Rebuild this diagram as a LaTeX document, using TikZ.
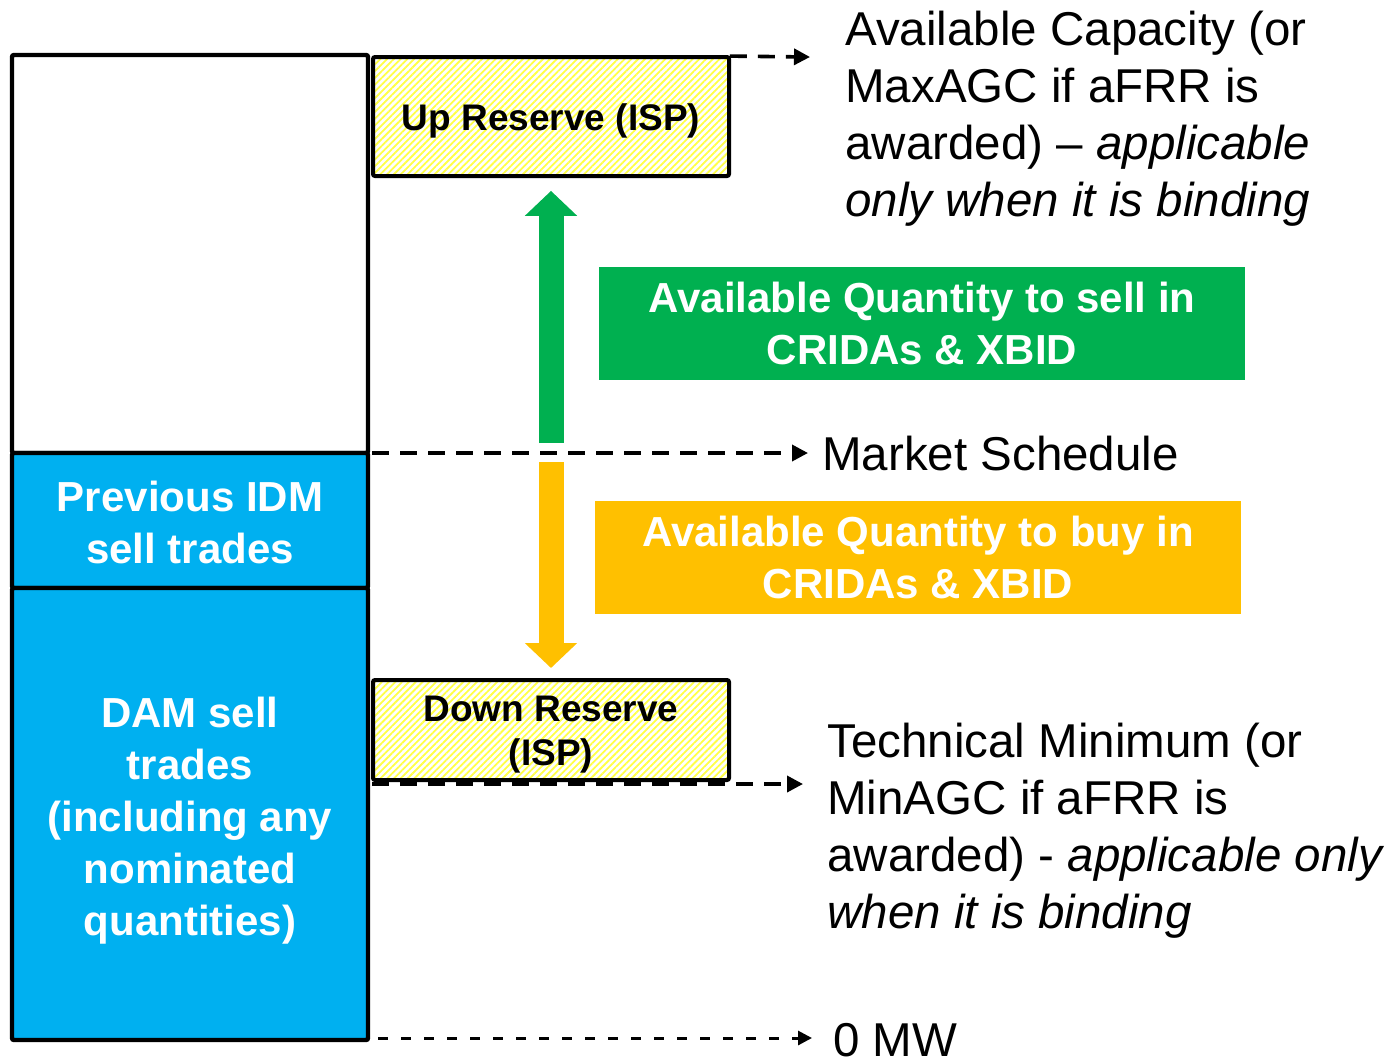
\documentclass[tikz,border=0pt]{standalone}
\usepackage{fontspec}
\setmainfont{Liberation Sans}
\usetikzlibrary{positioning, calc, arrows.meta, patterns.meta}
\definecolor{dayblue}{RGB}{0,176,240}
\definecolor{sellgreen}{RGB}{0,176,80}
\definecolor{buyorange}{RGB}{255,192,0}
\definecolor{hatchyellow}{RGB}{255,255,70}

\tikzset{
  colbox/.style={draw=black, line width=2.2pt, rounded corners=1pt, inner sep=0pt,
    minimum width=178pt},
  coltext/.style={inner sep=0pt, text=white, align=center,
    font=\bfseries\fontsize{21}{26}\selectfont},
  reservebox/.style={draw=black, line width=2pt, rounded corners=1pt, inner sep=0pt,
    minimum width=178pt,
    pattern={Lines[angle=45, distance=2.4pt, line width=0.9pt]}, pattern color=hatchyellow},
  reservetext/.style={inner sep=0pt, align=center,
    font=\bfseries\fontsize{18.5}{22}\selectfont},
  qtybox/.style={inner sep=0pt, minimum width=323pt, minimum height=56.5pt,
    text=white, align=center, font=\bfseries\fontsize{21}{26}\selectfont},
  caption/.style={anchor=west, align=left, inner sep=0pt,
    font=\fontsize{23.75}{28.5}\selectfont},
  levelarrow/.style={line width=1.8pt, dash pattern=on 8.5pt off 5.5pt,
    -{Triangle[length=8pt, width=8pt]}},
  blockarrow/.style={line width=12.5pt, -{Triangle[length=12.5pt, width=25.5pt]}}
}

\begin{document}
\begin{tikzpicture}[x=0.5pt, y=-0.5pt]
  \useasboundingbox (0,0) rectangle (1394,1057);

  % Column of the unit's position
  \node[colbox, minimum height=199pt] (free) at (190,254) {};
  \node[colbox, fill=dayblue, minimum height=67.5pt] (idm) at (190,520.5) {};
  \node[colbox, fill=dayblue, minimum height=226pt] (dam) at (190,814) {};
  \node[coltext] (idmtxt) at ([yshift=-1pt]idm.center) {Previous IDM\\sell trades};
  \node[coltext] (damtxt) at ([yshift=-3.5pt]dam.center)
    {DAM sell\\trades\\(including any\\nominated\\quantities)};

  % Reserves
  \node[reservebox, minimum height=59.5pt] (up) at (551,116.5) {};
  \node[reservebox, minimum height=50pt] (down) at (551,730) {};
  \node[reservetext] (uptxt) at ([yshift=-2pt]up.center) {Up Reserve (ISP)};
  \node[reservetext] (downtxt) at ([yshift=-2.5pt]down.center) {Down Reserve\\(ISP)};

  % Quantities
  \node[qtybox, fill=sellgreen] (sellq) at (922,323.5) {Available Quantity to sell in\\CRIDAs \& XBID};
  \node[qtybox, fill=buyorange] (buyq) at (918,557) {Available Quantity to buy in\\CRIDAs \& XBID};

  % Levels
  \node[caption] (maxcap) at (845,119)
    {Available Capacity (or\\MaxAGC if aFRR is\\awarded) -- \textit{applicable}\\\textit{only when it is binding}};
  \node[caption] (mktlbl) at (822,454) {Market Schedule};
  \node[caption] (mincap) at (827,831)
    {Technical Minimum (or\\MinAGC if aFRR is\\awarded) - \textit{applicable only}\\\textit{when it is binding}};
  \node[caption] (zerolbl) at (833,1040) {0 MW};

  \coordinate (maxend) at (810,57);
  \coordinate (mktbeg) at (372,453);
  \coordinate (mktend) at (808,453);
  \coordinate (minbeg) at (372,784);
  \coordinate (minend) at (803,784);
  \coordinate (zerobeg) at (378,1038);
  \coordinate (zeroend) at (812,1038);

  \draw[levelarrow] (up.north east) -- (maxend);
  \draw[levelarrow] (mktbeg) -- (mktend);
  \draw[levelarrow] (minbeg) -- (minend);
  \draw[levelarrow, line width=1.5pt, dash pattern=on 5pt off 6.5pt,
        -{Triangle[length=7pt, width=7pt]}] (zerobeg) -- (zeroend);

  % Up and down margins
  \draw[blockarrow, sellgreen] ([yshift=5pt]mktbeg -| up.south) -- ([yshift=-7pt]up.south);
  \draw[blockarrow, buyorange] ([yshift=-4.5pt]mktbeg -| down.north) -- ([yshift=5pt]down.north);
\end{tikzpicture}
\end{document}
